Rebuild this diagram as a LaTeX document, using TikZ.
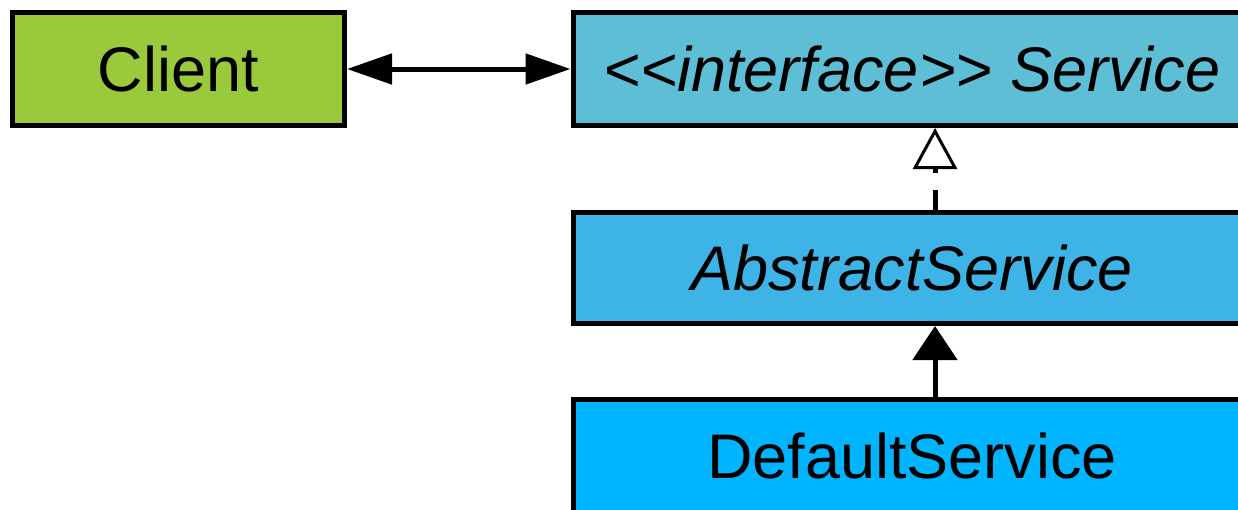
\documentclass[tikz,border=0pt]{standalone}
\usepackage{fontspec}
\setmainfont{Liberation Sans}
\usetikzlibrary{arrows.meta}
\definecolor{clientgreen}{RGB}{154,202,60}
\definecolor{ifaceblue}{RGB}{93,190,214}
\definecolor{absblue}{RGB}{62,180,230}
\definecolor{defblue}{RGB}{0,180,255}
\begin{document}
\begin{tikzpicture}[x=1pt,y=-1pt,
  box/.style={draw=black,line width=5pt,rectangle,inner sep=0pt,
    font=\fontsize{63}{70}\selectfont},
  conn/.style={line width=5pt}]
\clip (0,0) rectangle (1238,509);
\useasboundingbox (0,0) rectangle (1238,509);
\node[box,fill=clientgreen,minimum width=332pt,minimum height=113pt] (client) at (178.5,69) {Client};
\node[box,fill=ifaceblue,minimum width=678pt,minimum height=113pt] (service) at (912,69) {\itshape <\kern0pt<interface>\kern0pt> Service};
\node[box,fill=absblue,minimum width=678pt,minimum height=111pt] (abstract) at (912,268) {\itshape AbstractService};
\node[box,fill=defblue,minimum width=678pt,minimum height=113pt] (default) at (912,456) {DefaultService};
\draw[conn,{Triangle[length=45pt,width=30pt]}-{Triangle[length=45pt,width=30pt]}] (client.east) -- (service.west);
\draw[conn,dash pattern=on 20pt off 17pt,-{Triangle[open,length=41pt,width=44pt,line width=3pt]}] ([xshift=23pt]abstract.north) -- ([xshift=23pt]service.south);
\draw[conn,-{Triangle[length=34pt,width=44pt]}] ([xshift=23pt]default.north) -- ([xshift=23pt]abstract.south);
\end{tikzpicture}
\end{document}
